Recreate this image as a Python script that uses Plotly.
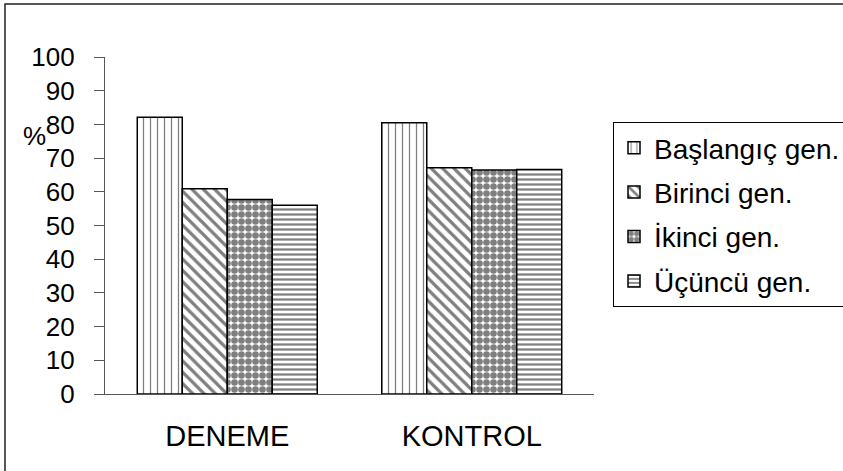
import plotly.graph_objects as go

categories = ["DENEME", "KONTROL"]
series_names = ["Başlangıç gen.", "Birinci gen.", "İkinci gen.", "Üçüncü gen."]
baslangic = [82.1, 80.5]
birinci = [60.9, 67.1]
ikinci = [57.7, 66.5]
ucuncu = [56.0, 66.6]
y_ticks = [0, 10, 20, 30, 40, 50, 60, 70, 80, 90, 100]

FONT = "Liberation Sans, Arial, Helvetica, sans-serif"
values = [baslangic, birinci, ikinci, ucuncu]
patterns = [
    dict(shape="|", size=7, solidity=0.18),
    dict(shape="\\", size=8, solidity=0.4),
    dict(shape=".", size=7, solidity=0.7),
    dict(shape="-", size=5, solidity=0.45),
]

fig = go.Figure()
for name, vals, pat in zip(series_names, values, patterns):
    fig.add_trace(go.Bar(
        x=categories, y=vals, name=name, legendgroup=name,
        marker=dict(color="white",
                    line=dict(color="black", width=1.5),
                    pattern=dict(fgcolor="black", bgcolor="white",
                                 fillmode="overlay", **pat)),
    ))

fig.update_layout(
    width=843, height=471,
    margin=dict(l=105, r=249, t=57, b=77, autoexpand=False),
    paper_bgcolor="white", plot_bgcolor="white",
    barmode="group", bargap=0.264, bargroupgap=0,
    font=dict(family=FONT, size=26, color="black"),
    showlegend=True,
    legend=dict(x=(613 - 105) / 489, xanchor="left",
                y=(394 - 122) / 337, yanchor="top",
                bordercolor="black", borderwidth=1, bgcolor="white",
                font=dict(family=FONT, size=28, color="black"),
                tracegroupgap=5, traceorder="grouped"),
    xaxis=dict(showline=True, linecolor="#555", linewidth=1.2,
               ticks="", ticklabelstandoff=16, showgrid=False,
               tickfont=dict(family=FONT, size=29)),
    yaxis=dict(range=[0, 100], tickvals=y_ticks, showline=True,
               linecolor="#555", linewidth=1.2, ticks="outside",
               ticklen=10, tickcolor="#555", showgrid=False,
               zeroline=False, ticklabelstandoff=14),
    shapes=[dict(type="rect", xref="paper", yref="paper",
                 x0=-0.2045, x1=2.0, y0=-1.0, y1=1.157,
                 line=dict(color="#222", width=1.5))],
    annotations=[dict(text="%", xref="paper", yref="paper",
                      x=(34 - 105) / 489, y=(394 - 136) / 337,
                      xanchor="center", yanchor="middle",
                      showarrow=False, font=dict(family=FONT, size=26))],
)

fig.write_html("out.html",
               config={"displayModeBar": False},
               post_script="document.body.style.margin='0';")
